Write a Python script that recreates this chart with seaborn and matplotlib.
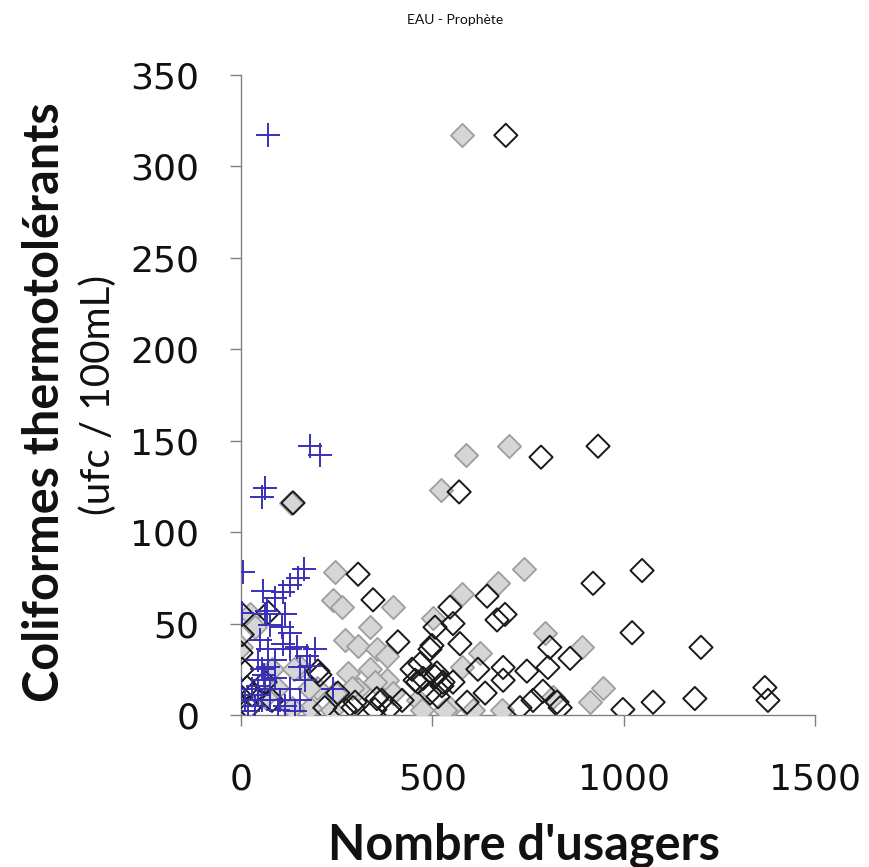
import matplotlib
matplotlib.use("Agg")
import matplotlib.pyplot as plt
import seaborn as sns
import pandas as pd

# Series: gray filled diamonds
gray_x = [577, 700, 588, 523, 131, 740, 672, 577, 502, 794, 891, 946, 912, 624, 577,
          682, 815, 606, 546, 246, 240, 397, 272, 306, 337, 355, 382, 337, 280, 382,
          154, 199, 306, 180, 24, 94, 37, 350, 290, 462, 473, 533, 397, 81, 138,
          178, 63, 133, 246, 238, 264, 0]
gray_y = [317, 147, 142, 123, 116, 80, 72, 66, 53, 45, 37, 15, 7, 34, 26,
          3, 10, 3, 4, 78, 63, 59, 41, 38, 48, 36, 32, 25, 23, 19,
          26, 15, 14, 4, 55, 15, 48, 18, 15, 8, 3, 3, 12, 25, 25,
          15, 10, 4, 12, 3, 59, 37]

# Series: black open diamonds
black_x = [692, 933, 784, 570, 136, 920, 1048, 1022, 1202, 998, 1077, 1186, 1369, 1377, 860,
           306, 345, 410, 201, 71, 3, 3, 0, 3, 16, 0, 29, 21, 63, 81,
           206, 219, 253, 293, 355, 389, 421, 447, 455, 476, 468, 499, 507, 462, 507,
           525, 515, 368, 350, 272, 298, 643, 669, 690, 546, 554, 572, 494, 807, 619,
           685, 685, 747, 802, 638, 591, 729, 789, 763, 826, 834, 512, 528, 494, 554]
black_y = [317, 147, 141, 122, 116, 72, 79, 45, 37, 3, 7, 9, 15, 8, 31,
           77, 63, 40, 24, 56, 55, 44, 34, 25, 15, 10, 11, 4, 18, 8,
           22, 4, 12, 4, 9, 4, 8, 25, 19, 20, 28, 38, 48, 18, 21,
           16, 10, 8, 3, 3, 7, 65, 52, 55, 59, 50, 39, 36, 37, 25,
           26, 19, 24, 26, 12, 7, 4, 13, 8, 7, 4, 23, 18, 12, 18]

# Series: blue crosses
blue_x = [71, 180, 206, 55, 63, 5, 165, 149, 128, 110, 89, 57, 2, 63, 76, 107, 128, 110,
          128, 50, 71, 89, 55, 63, 76, 102, 37, 18, 0, 10, 128, 154, 141, 115, 167, 180,
          154, 44, 60, 71, 44, 89, 97, 240, 146, 193, 172, 115, 68, 44, 55, 29, 76]
blue_y = [317, 147, 142, 119, 124, 78, 80, 75, 71, 67, 64, 68, 56, 55, 49, 48, 45, 39,
          36, 41, 36, 30, 25, 19, 14, 8, 5, 2, 14, 8, 14, 8, 2, 5, 19, 27,
          26, 30, 22, 26, 16, 20, 3, 14, 37, 36, 32, 55, 57, 11, 8, 14, 8]

x_ticks = [0, 500, 1000, 1500]
y_ticks = [0, 50, 100, 150, 200, 250, 300, 350]

title = "EAU - Prophète"
x_label = "Nombre d'usagers"
y_label = "Coliformes thermotolérants"
y_sub = "(ufc / 100mL)"

sns.set_theme(style="white")
plt.rcParams["font.family"] = ["DejaVu Sans"]

fig = plt.figure(figsize=(8.69, 8.67), dpi=100)
ax = fig.add_axes([241 / 869, 1 - 715 / 867, (815 - 241) / 869, (715 - 75) / 867])

df_gray = pd.DataFrame({"x": gray_x, "y": gray_y})
df_black = pd.DataFrame({"x": black_x, "y": black_y})
df_blue = pd.DataFrame({"x": blue_x, "y": blue_y})

sns.scatterplot(data=df_gray, x="x", y="y", ax=ax, marker="D", s=140,
                color="#d6d6d6", edgecolor="#9e9e9e", linewidth=1.3, zorder=3)
sns.scatterplot(data=df_black, x="x", y="y", ax=ax, marker="D", s=140,
                color="#1a1a1a", edgecolor="#1a1a1a", linewidth=1.4, zorder=4)
ax.collections[-1].set_facecolor("none")
sns.scatterplot(data=df_blue, x="x", y="y", ax=ax, marker="+", s=280,
                color="#3a30b8", linewidth=1.4, zorder=5)

ax.set_xlim(0, 1500)
ax.set_ylim(0, 350)
ax.set_xticks(x_ticks)
ax.set_yticks(y_ticks)
ax.set_xticklabels([str(v) for v in x_ticks])
ax.set_yticklabels([str(v) for v in y_ticks])
ax.tick_params(axis="both", which="both", direction="out", length=8, width=1,
               color="#808080", labelsize=26, labelcolor="#111111",
               bottom=True, left=True)
ax.tick_params(axis="x", pad=26)
ax.tick_params(axis="y", pad=22)

for side in ["top", "right"]:
    ax.spines[side].set_visible(False)
for side in ["left", "bottom"]:
    ax.spines[side].set_color("#808080")
    ax.spines[side].set_linewidth(1.0)

ax.set_xlabel("")
ax.set_ylabel("")
ax.grid(False)

fig.text(524 / 869, 1 - 845 / 867, x_label, ha="center", va="center",
         fontsize=35, fontweight="bold", family=["Lato", "DejaVu Sans"], color="#111111")
fig.text(45 / 869, 1 - 402 / 867, y_label, ha="center", va="center", rotation=90,
         fontsize=35, fontweight="bold", family=["Lato", "DejaVu Sans"], color="#111111")
fig.text(98 / 869, 1 - 395 / 867, y_sub, ha="center", va="center", rotation=90,
         fontsize=29, family=["Lato", "DejaVu Sans"], color="#111111")
fig.text(455 / 869, 1 - 20 / 867, title, ha="center", va="center",
         fontsize=10, family=["Lato", "DejaVu Sans"], color="#111111")

fig.savefig("out.png", dpi=100, facecolor="white")
